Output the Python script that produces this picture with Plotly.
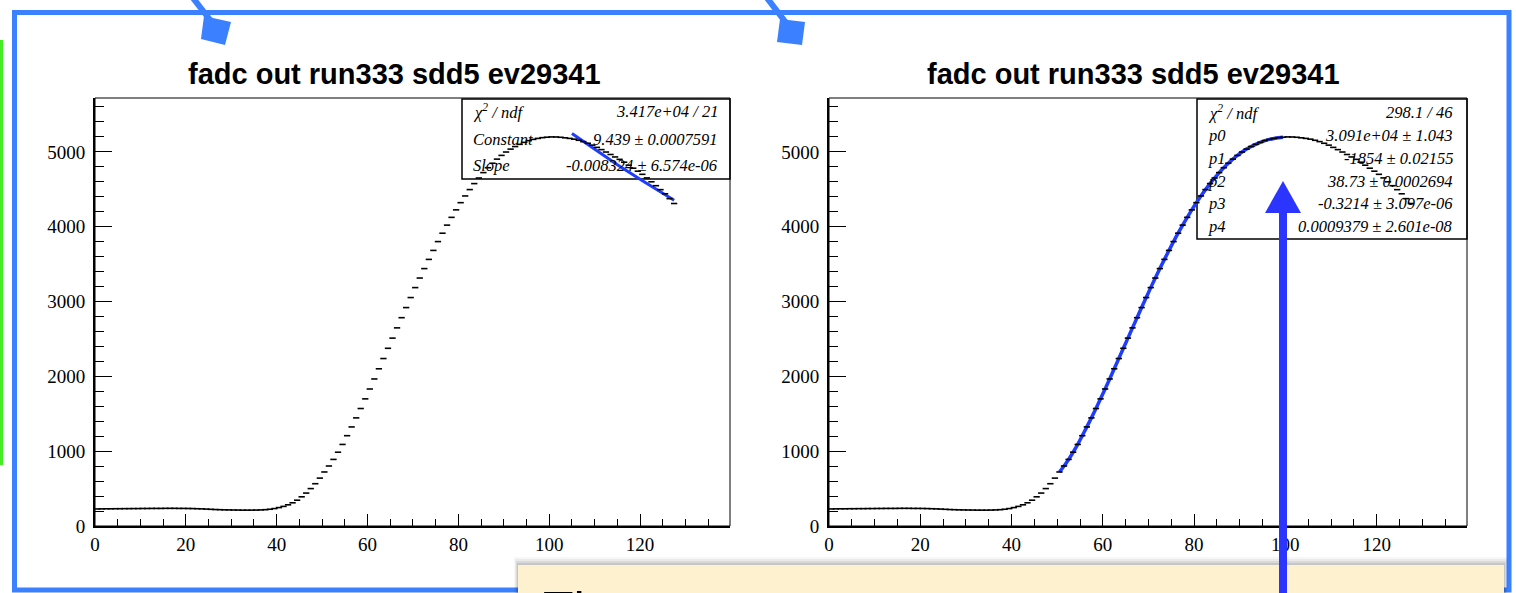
import plotly.graph_objects as go

# ---------------- data ----------------
title_text = "fadc out run333 sdd5 ev29341"
bin_index = list(range(128))
adc_values = [
    228, 229, 230, 230, 231, 231, 232, 232, 233, 233,
    234, 234, 235, 235, 235, 236, 236, 236, 235, 235,
    234, 233, 231, 229, 226, 223, 220, 218, 216, 215,
    214, 213, 212, 212, 212, 213, 215, 218, 224, 233,
    246, 262, 283, 310, 345, 390, 440, 500, 565, 640,
    722, 802, 890, 986, 1090, 1207, 1324, 1445, 1570, 1699,
    1831, 1965, 2101, 2238, 2375, 2511, 2648, 2784, 2919, 3053,
    3186, 3314, 3440, 3563, 3683, 3801, 3913, 4021, 4125, 4225,
    4321, 4411, 4496, 4576, 4651, 4723, 4788, 4848, 4903, 4953,
    4998, 5037, 5071, 5101, 5127, 5150, 5167, 5180, 5190, 5196,
    5200, 5199, 5195, 5188, 5180, 5170, 5155, 5137, 5115, 5090,
    5060, 5030, 4998, 4965, 4932, 4900, 4862, 4822, 4782, 4742,
    4700, 4652, 4600, 4548, 4495, 4440, 4375, 4310,
]
bin_centers = [i + 0.5 for i in bin_index]

# expo fit (left pad)
expo_x = [105, 110, 115, 120, 125, 127.5]
expo_y = [5245, 5032, 4828, 4633, 4445, 4353]

# pol4 fit range (right pad): bins 50..99
pol4_first, pol4_last = 50, 100

stats_left_labels = ["χ<sup>2</sup> / ndf", "Constant", "Slope"]
stats_left_values = ["3.417e+04 / 21", "9.439 ± 0.0007591", "-0.008324 ± 6.574e-06"]
stats_right_labels = ["χ<sup>2</sup> / ndf", "p0", "p1", "p2", "p3", "p4"]
stats_right_values = ["298.1 / 46", "3.091e+04 ± 1.043", "-1854 ± 0.02155",
                      "38.73 ± 0.0002694", "-0.3214 ± 3.097e-06", "0.0009379 ± 2.601e-08"]

x_range = [0, 139.8]
y_range = [0, 5720]

# ---------------- layout helpers ----------------
W, H = 1516, 593
def PX(x):
    return x / W
def PY(y):
    return 1 - y / H

FIT_BLUE = "#1f3dff"
SLIDE_BLUE = "#3a80ff"

fig = go.Figure()

# left pad traces
fig.add_trace(go.Scatter(x=expo_x, y=expo_y, mode="lines",
                         line=dict(color=FIT_BLUE, width=3), xaxis="x", yaxis="y",
                         showlegend=False, hoverinfo="skip"))
fig.add_trace(go.Scatter(x=bin_centers, y=adc_values, mode="markers",
                         marker=dict(symbol="line-ew", size=4.5, color="black",
                                     line=dict(color="black", width=1.6)),
                         xaxis="x", yaxis="y", showlegend=False))

# right pad traces
fit_x = bin_centers[pol4_first:pol4_last]
fit_y = adc_values[pol4_first:pol4_last]
fig.add_trace(go.Scatter(x=fit_x, y=fit_y, mode="lines", line_shape="spline",
                         line=dict(color=FIT_BLUE, width=3.5), xaxis="x2", yaxis="y2",
                         showlegend=False, hoverinfo="skip"))
fig.add_trace(go.Scatter(x=bin_centers, y=adc_values, mode="markers",
                         marker=dict(symbol="line-ew", size=4.5, color="black",
                                     line=dict(color="black", width=1.6)),
                         xaxis="x2", yaxis="y2", showlegend=False))

tickfont = dict(family="Liberation Serif, Times New Roman, serif", size=19, color="black")

def xaxis_cfg(domain, anchor):
    return dict(domain=domain, anchor=anchor, range=x_range, dtick=20, tick0=0,
                ticks="inside", ticklen=12, tickwidth=1, tickcolor="black",
                minor=dict(dtick=5, ticks="inside", ticklen=7, tickwidth=1, tickcolor="black"),
                showline=True, linecolor="black", linewidth=2, showgrid=False,
                zeroline=False, tickfont=tickfont, fixedrange=True, automargin=False)

def yaxis_cfg(domain, anchor):
    return dict(domain=domain, anchor=anchor, range=y_range, dtick=1000, tick0=0,
                ticks="inside", ticklen=17, tickwidth=1, tickcolor="black",
                minor=dict(dtick=200, ticks="inside", ticklen=9, tickwidth=1, tickcolor="black"),
                showline=True, linecolor="black", linewidth=2, showgrid=False,
                zeroline=False, tickfont=tickfont, ticklabelstandoff=4, fixedrange=True,
                automargin=False)

L = (95, 730)
R = (829, 1467)
TOP, BOT = 98, 526

fig.update_layout(
    width=W, height=H,
    margin=dict(l=0, r=0, t=0, b=0, pad=0, autoexpand=False),
    paper_bgcolor="white", plot_bgcolor="white",
    xaxis=xaxis_cfg([PX(L[0]), PX(L[1])], "y"),
    yaxis=yaxis_cfg([PY(BOT), PY(TOP)], "x"),
    xaxis2=xaxis_cfg([PX(R[0]), PX(R[1])], "y2"),
    yaxis2=yaxis_cfg([PY(BOT), PY(TOP)], "x2"),
)

shapes = []
annotations = []

# pad frames
for xr, yr in (("x domain", "y domain"), ("x2 domain", "y2 domain")):
    shapes.append(dict(type="rect", xref=xr, yref=yr, x0=0, x1=1, y0=0, y1=1,
                       line=dict(color="black", width=1), layer="above"))

STAT_FONT = dict(family="Liberation Serif, Times New Roman, serif", size=16.5, color="black")

# stat boxes
def add_statbox(x0, x1, y0, y1, labels, values, rows_y, lab_x, val_x):
    shapes.append(dict(type="rect", xref="paper", yref="paper",
                       x0=PX(x0), x1=PX(x1), y0=PY(y1), y1=PY(y0),
                       line=dict(color="black", width=1.5), layer="below"))
    for lab, val, ry in zip(labels, values, rows_y):
        annotations.append(dict(xref="paper", yref="paper", x=PX(lab_x), y=PY(ry),
                                text="<i>" + lab + "</i>", showarrow=False,
                                xanchor="left", yanchor="middle", font=STAT_FONT))
        annotations.append(dict(xref="paper", yref="paper", x=PX(val_x), y=PY(ry),
                                text="<i>" + val + "</i>", showarrow=False,
                                xanchor="right", yanchor="middle", font=STAT_FONT))

add_statbox(462, 730, 99, 179, stats_left_labels, stats_left_values,
            [111, 139, 165], 471, 720)
add_statbox(1197, 1467, 99, 239, stats_right_labels, stats_right_values,
            [112, 135, 158, 182, 204, 227], 1206, 1455)

# titles
for cx in (394, 1133):
    annotations.append(dict(xref="paper", yref="paper", x=PX(cx), y=PY(74),
                            text="<b>" + title_text + "</b>", showarrow=False,
                            xanchor="center", yanchor="middle",
                            font=dict(family="Liberation Sans, Arial, Helvetica, sans-serif",
                                      size=29, color="black")))

# ---- slide decorations ----
# green bar at the left edge
shapes.append(dict(type="line", xref="paper", yref="paper", x0=PX(1.5), x1=PX(1.5),
                   y0=PY(40), y1=PY(465), line=dict(color="#44ee22", width=3)))
# blue slide frame
shapes.append(dict(type="rect", xref="paper", yref="paper", x0=PX(14.5), x1=PX(1509),
                   y0=PY(590), y1=PY(12.5), line=dict(color=SLIDE_BLUE, width=5), layer="above"))
# connectors from top
def poly(points):
    return "M " + " L ".join(f"{PX(x)},{PY(y)}" for x, y in points) + " Z"
shapes.append(dict(type="line", xref="paper", yref="paper", x0=PX(193), y0=PY(-2),
                   x1=PX(214), y1=PY(25), line=dict(color=SLIDE_BLUE, width=6), layer="above"))
shapes.append(dict(type="path", xref="paper", yref="paper",
                   path=poly([(204, 16), (231, 22), (225, 45), (201, 39)]),
                   fillcolor=SLIDE_BLUE, line=dict(width=0), layer="above"))
shapes.append(dict(type="line", xref="paper", yref="paper", x0=PX(767), y0=PY(-2),
                   x1=PX(787), y1=PY(24), line=dict(color=SLIDE_BLUE, width=6), layer="above"))
shapes.append(dict(type="path", xref="paper", yref="paper",
                   path=poly([(780, 19), (805, 22), (802, 45), (777, 42)]),
                   fillcolor=SLIDE_BLUE, line=dict(width=0), layer="above"))

# yellow note box with soft shadow
for i, a in enumerate([0.03, 0.05, 0.07, 0.09]):
    off = 8 - 2 * i
    shapes.append(dict(type="rect", xref="paper", yref="paper",
                       x0=PX(518 - off / 2), x1=PX(1504 + off / 2),
                       y0=PY(600), y1=PY(565 - off),
                       fillcolor=f"rgba(0,0,0,{a})", line=dict(width=0), layer="above"))
shapes.append(dict(type="rect", xref="paper", yref="paper", x0=PX(518), x1=PX(1504),
                   y0=PY(600), y1=PY(565), fillcolor="#fdf1cf", line=dict(width=0),
                   layer="above"))
annotations.append(dict(xref="paper", yref="paper", x=PX(541), y=PY(579.5),
                        text="The", showarrow=False, xanchor="left", yanchor="top",
                        font=dict(family="Liberation Sans, Arial, sans-serif", size=50,
                                  color="black")))

# big blue arrow
ARROW = "#2b35ff"
shapes.append(dict(type="line", xref="paper", yref="paper", x0=PX(1283), x1=PX(1283),
                   y0=PY(600), y1=PY(210), line=dict(color=ARROW, width=8), layer="above"))
shapes.append(dict(type="path", xref="paper", yref="paper",
                   path=poly([(1265, 213), (1301, 213), (1283, 181)]),
                   fillcolor=ARROW, line=dict(width=0), layer="above"))

fig.update_layout(shapes=shapes, annotations=annotations)

fig.write_html("out.html", config={"displayModeBar": False},
               post_script="document.body.style.margin='0';document.documentElement.style.overflow='hidden';document.body.style.overflow='hidden';")
